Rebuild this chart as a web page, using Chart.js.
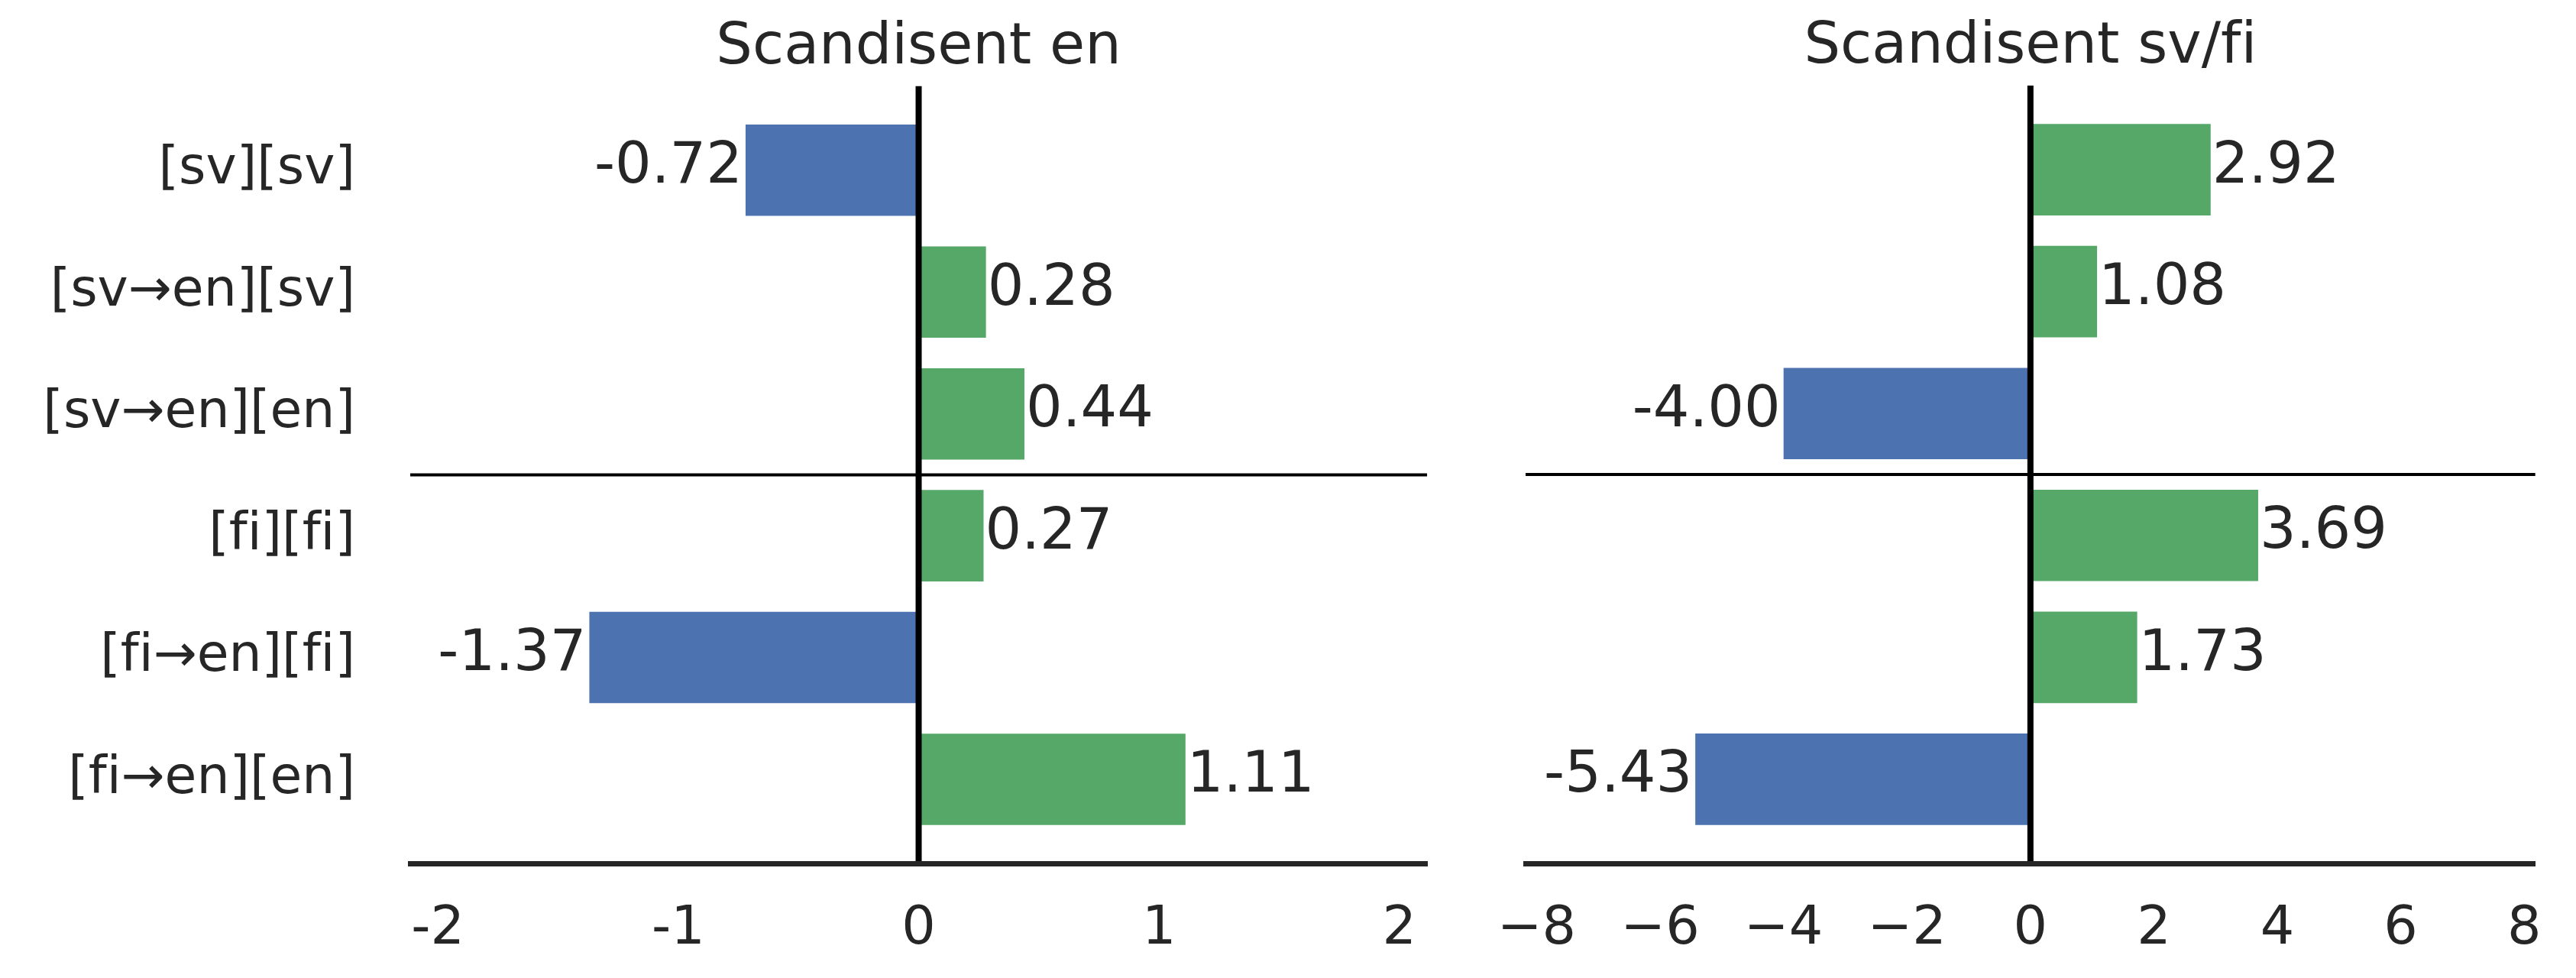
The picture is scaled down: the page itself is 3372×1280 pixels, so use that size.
<!DOCTYPE html>
<html>
<head>
<meta charset="utf-8">
<title>Scandisent</title>
<script src="https://cdn.jsdelivr.net/npm/chart.js@4"></script>
<style>
    html, body { margin: 0; padding: 0; background: #ffffff; }
    body { width: 3372px; height: 1280px; position: relative; overflow: hidden; }
    .panel { position: absolute; top: 0; height: 1280px; }
    #panelEn { left: 0; width: 1900px; }
    #panelSvfi { left: 1900px; width: 1472px; }
</style>
</head>
<body>
<div class="panel" id="panelEn"><canvas id="chartEn"></canvas></div>
<div class="panel" id="panelSvfi"><canvas id="chartSvfi"></canvas></div>

<script>
// Data
const categories = ['[sv][sv]', '[sv→en][sv]', '[sv→en][en]', '[fi][fi]', '[fi→en][fi]', '[fi→en][en]'];
const enScores = [-0.72, 0.28, 0.44, 0.27, -1.37, 1.11];
const svfiScores = [2.92, 1.08, -4.00, 3.69, 1.73, -5.43];

const enTicks = [-2, -1, 0, 1, 2];
const enTickLabels = ['-2', '-1', '0', '1', '2'];
const svfiTicks = [-8, -6, -4, -2, 0, 2, 4, 6, 8];
const svfiTickLabels = ['\u22128', '\u22126', '\u22124', '\u22122', '0', '2', '4', '6', '8'];

// sv rows / fi rows are split between index 2 and 3
const groupSplit = 2.5;

const BLUE = '#4C72B0';
const GREEN = '#55A868';
const TEXT = '#262626';

Chart.defaults.font.family = "'DejaVu Sans', sans-serif";
Chart.defaults.color = TEXT;

/**
 * No "fi" ligatures, like the original figure
 */
const plainText = {
    id: 'plainText',
    beforeDraw(chart) {
        chart.ctx.textRendering = 'optimizeSpeed';
    }
};

/**
 * Zero line, group separator and value labels
 */
const decorations = {
    id: 'decorations',
    afterDatasetsDraw(chart) {
        const { ctx, chartArea, scales } = chart;
        const x0 = scales.x.getPixelForValue(0);
        const ySplit = scales.y.getPixelForValue(groupSplit);

        ctx.save();
        ctx.strokeStyle = '#000000';

        // separator between the sv and fi groups
        ctx.lineWidth = 4;
        ctx.beginPath();
        ctx.moveTo(chartArea.left, ySplit);
        ctx.lineTo(chartArea.right, ySplit);
        ctx.stroke();

        // vertical zero line
        ctx.lineWidth = 8;
        ctx.beginPath();
        ctx.moveTo(x0, chartArea.top);
        ctx.lineTo(x0, chartArea.bottom - 3);
        ctx.stroke();

        // value labels at the end of each bar
        ctx.fillStyle = TEXT;
        ctx.font = "75px 'DejaVu Sans', sans-serif";
        ctx.textBaseline = 'middle';
        const meta = chart.getDatasetMeta(0);
        const values = chart.data.datasets[0].data;
        meta.data.forEach((bar, i) => {
            const v = values[i].x;
            const text = v.toFixed(2);
            if (v >= 0) {
                ctx.textAlign = 'left';
                ctx.fillText(text, bar.x + 2, bar.y - 3);
            } else {
                ctx.textAlign = 'right';
                ctx.fillText(text, bar.x - 4, bar.y - 3);
            }
        });
        ctx.restore();
    }
};

function makePanel(canvasId, title, scores, ticks, tickLabels, xLimit, showCategories, padding) {
    const ctx = document.getElementById(canvasId);

    return new Chart(ctx, {
        type: 'bar',
        data: {
            datasets: [{
                data: scores.map((v, i) => ({ x: v, y: i })),
                backgroundColor: (c) => (c.raw && c.raw.x < 0 ? BLUE : GREEN),
                borderWidth: 0,
                barPercentage: 0.75,
                categoryPercentage: 1
            }]
        },
        options: {
            indexAxis: 'y',
            responsive: true,
            maintainAspectRatio: false,
            animation: false,
            layout: { padding: padding },
            plugins: {
                legend: { display: false },
                tooltip: { enabled: false },
                title: {
                    display: true,
                    text: title,
                    fullSize: false,
                    color: TEXT,
                    font: { size: 75, weight: 'normal', lineHeight: 1.2 },
                    padding: { top: 18, bottom: 4 }
                }
            },
            scales: {
                x: {
                    type: 'linear',
                    min: -xLimit,
                    max: xLimit,
                    afterBuildTicks: (axis) => {
                        axis.ticks = ticks.map((v) => ({ value: v }));
                    },
                    // fixed height so the plot bottom lands where the reference has it
                    afterFit: (axis) => {
                        axis.height = 150;
                    },
                    ticks: {
                        callback: (value, index) => tickLabels[index],
                        font: { size: 70, lineHeight: 1.2 },
                        color: TEXT,
                        padding: 45,
                        maxRotation: 0,
                        autoSkip: false
                    },
                    grid: { display: false, drawTicks: false },
                    border: { display: true, color: TEXT, width: 7 }
                },
                y: {
                    type: 'linear',
                    display: showCategories,
                    reverse: true,
                    offset: false,
                    min: -0.69,
                    max: categories.length - 1 + 0.69,
                    afterBuildTicks: (axis) => {
                        axis.ticks = categories.map((c, i) => ({ value: i }));
                    },
                    afterFit: (axis) => {
                        if (showCategories) axis.width = 537;
                    },
                    ticks: {
                        callback: (value, index) => categories[index],
                        font: { size: 68, lineHeight: 1.2 },
                        color: TEXT,
                        padding: 72,
                        autoSkip: false
                    },
                    grid: { display: false, drawTicks: false },
                    border: { display: false }
                }
            }
        },
        plugins: [plainText, decorations]
    });
}

makePanel('chartEn', 'Scandisent en', enScores, enTicks, enTickLabels, 2.115, true,
    { top: 0, right: 30, bottom: 0, left: 0 });
makePanel('chartSvfi', 'Scandisent sv/fi', svfiScores, svfiTicks, svfiTickLabels, 8.18, false,
    { top: 0, right: 40, bottom: 0, left: 97 });
</script>
</body>
</html>
